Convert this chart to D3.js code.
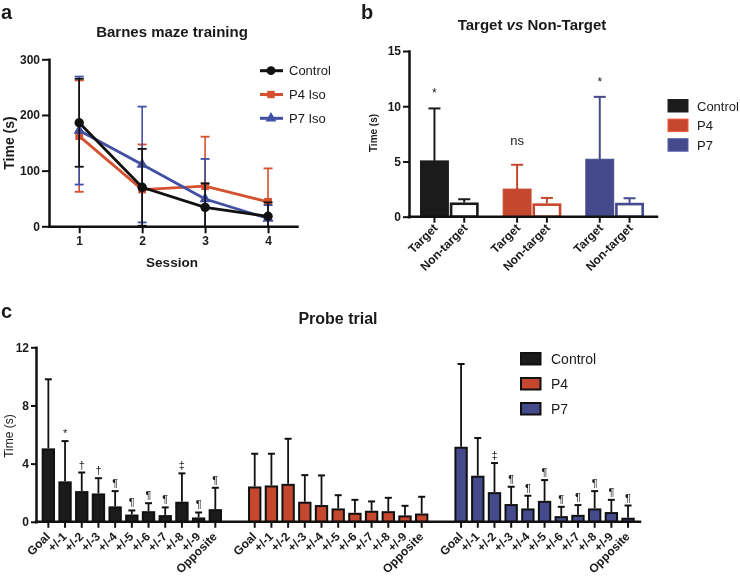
<!DOCTYPE html>
<html><head><meta charset="utf-8">
<script src="https://cdn.jsdelivr.net/npm/d3@7"></script>
<style>
body{margin:0;background:#fff;}
svg{display:block;}
</style></head><body>
<svg id="chart" width="740" height="579"></svg>
<script>
// ---------- DATA ----------
// Panel a: Barnes maze training
const sessions = [1, 2, 3, 4];
const trainSeries = ["Control", "P4 Iso", "P7 Iso"];
const trainControl = [186, 70, 34, 18];
const trainControlErr = [79, 69, 43, 25];
const trainP4 = [162, 66, 72, 44];
const trainP4Err = [100, 81, 89, 60];
const trainP7 = [172, 111, 49, 14];
const trainP7Err = [97, 104, 72, 24];
const trainTicks = [0, 100, 200, 300];

// Panel b: Target vs Non-Target
const tvnGroups = ["Control", "P4", "P7"];
const tvnCats = ["Target", "Non-target"];
const tvnTarget = [5.05, 2.5, 5.2];
const tvnTargetErr = [4.75, 2.2, 5.65];
const tvnNonTarget = [1.28, 1.2, 1.25];
const tvnNonTargetErr = [0.3, 0.5, 0.42];
const tvnSig = ["*", "ns", "*"];
const tvnTicks = [0, 5, 10, 15];

// Panel c: Probe trial
const probeGroups = ["Control", "P4", "P7"];
const probeCats = ["Goal", "+/-1", "+/-2", "+/-3", "+/-4", "+/-5", "+/-6", "+/-7", "+/-8", "+/-9", "Opposite"];
const probeControl = [5.05, 2.78, 2.11, 1.95, 1.06, 0.5, 0.73, 0.46, 1.38, 0.3, 0.87];
const probeControlErr = [4.75, 2.77, 1.28, 1.05, 1.05, 0.28, 0.55, 0.53, 1.95, 0.34, 1.47];
const probeP4 = [2.43, 2.5, 2.61, 1.38, 1.15, 0.92, 0.62, 0.76, 0.73, 0.44, 0.57];
const probeP4Err = [2.25, 2.18, 3.1, 1.83, 2.04, 0.91, 0.89, 0.64, 0.92, 0.66, 1.15];
const probeP7 = [5.16, 3.17, 2.04, 1.22, 0.92, 1.44, 0.39, 0.48, 0.92, 0.67, 0.28];
const probeP7Err = [5.69, 2.59, 2.0, 1.19, 0.87, 1.43, 0.64, 0.67, 1.19, 0.84, 0.84];
const probeControlSig = ["", "*", "\u2020", "\u2020", "\u00b6", "\u00b6", "\u00b6", "\u00b6", "\u2021", "\u00b6", "\u00b6"];
const probeP4Sig = ["", "", "", "", "", "", "", "", "", "", ""];
const probeP7Sig = ["", "", "\u2021", "\u00b6", "\u00b6", "\u00b6", "\u00b6", "\u00b6", "\u00b6", "\u00b6", "\u00b6"];
const probeTicks = [0, 4, 8, 12];

// ---------- STYLE ----------
const F = '"Liberation Sans", Arial, Helvetica, sans-serif';
const BLACK = "#111111";
const RED_LINE = "#d4502e", BLUE_LINE = "#4150a2";
const RED_BAR = "#c5482e", BLUE_BAR = "#444a8b";

// group with opacity -> grayscale text antialiasing
const svg = d3.select("#chart").attr("font-family", F).append("g").style("opacity", 0.999);

function styleAxis(g, fs) {
  g.attr("font-family", F);
  g.select(".domain").attr("stroke", BLACK).attr("stroke-width", 2.5).attr("stroke-linecap", "square");
  g.selectAll(".tick line").attr("stroke", BLACK).attr("stroke-width", 2);
  g.selectAll(".tick text").attr("fill", "#1a1a1a").attr("font-size", fs).attr("font-weight", "bold");
}
function label(x, y, txt, size, weight, anchor) {
  return svg.append("text").attr("x", x).attr("y", y).text(txt)
    .attr("font-size", size).attr("font-weight", weight || "normal")
    .attr("text-anchor", anchor || "start").attr("fill", "#1a1a1a");
}

// Panel letters
label(1, 18.5, "a", 20, "bold");
label(361, 18.5, "b", 20, "bold");
label(1, 318, "c", 20, "bold");

// ================= PANEL A =================
const ax = d3.scaleLinear().domain([0.52, 4.46]).range([49, 297]);
const ay = d3.scaleLinear().domain([0, 300]).range([226.3, 59.3]);

label(172, 37, "Barnes maze training", 15, "bold", "middle");
label(172, 266.5, "Session", 13.5, "bold", "middle");
svg.append("text").attr("transform", "translate(13.5,143) rotate(-90)")
  .attr("text-anchor", "middle").attr("font-size", 14).attr("font-weight", "bold")
  .attr("fill", "#1a1a1a").text("Time (s)");

const trainData = [
  { name: trainSeries[1], vals: trainP4, errs: trainP4Err, color: RED_LINE, sym: d3.symbolSquare, size: 60 },
  { name: trainSeries[2], vals: trainP7, errs: trainP7Err, color: BLUE_LINE, sym: d3.symbolTriangle, size: 55 },
  { name: trainSeries[0], vals: trainControl, errs: trainControlErr, color: BLACK, sym: d3.symbolCircle, size: 70 }
];

trainData.forEach(s => {
  const g = svg.append("g");
  const pts = sessions.map((x, i) => ({ x, v: s.vals[i], e: s.errs[i] }));
  pts.forEach(p => {
    const lo = Math.max(0, p.v - p.e), hi = p.v + p.e;
    g.append("line").attr("x1", ax(p.x)).attr("x2", ax(p.x)).attr("y1", ay(lo)).attr("y2", ay(hi))
      .attr("stroke", s.color).attr("stroke-width", 1.6);
    g.append("line").attr("x1", ax(p.x) - 4.5).attr("x2", ax(p.x) + 4.5).attr("y1", ay(hi)).attr("y2", ay(hi))
      .attr("stroke", s.color).attr("stroke-width", 1.8);
    if (p.v - p.e > 0) {
      g.append("line").attr("x1", ax(p.x) - 4.5).attr("x2", ax(p.x) + 4.5).attr("y1", ay(lo)).attr("y2", ay(lo))
        .attr("stroke", s.color).attr("stroke-width", 1.8);
    }
  });
  g.append("path").datum(pts)
    .attr("d", d3.line().x(p => ax(p.x)).y(p => ay(p.v)))
    .attr("fill", "none").attr("stroke", s.color).attr("stroke-width", 2.8);
  g.selectAll(".m").data(pts).enter().append("path")
    .attr("transform", p => `translate(${ax(p.x)},${ay(p.v)})`)
    .attr("d", d3.symbol().type(s.sym).size(s.size)).attr("fill", s.color);
});

const yAxA = svg.append("g").attr("transform", "translate(49,0)")
  .call(d3.axisLeft(ay).tickValues(trainTicks).tickSize(7).tickSizeOuter(0).tickPadding(2));
styleAxis(yAxA, 12);
const xAxA = svg.append("g").attr("transform", `translate(0,${ay(0)})`)
  .call(d3.axisBottom(ax).tickValues(sessions).tickFormat(d3.format("d")).tickSize(7).tickSizeOuter(0).tickPadding(3));
styleAxis(xAxA, 12);

// legend a
const legA = [
  { name: trainSeries[0], color: BLACK, sym: d3.symbolCircle, size: 60 },
  { name: trainSeries[1], color: RED_LINE, sym: d3.symbolSquare, size: 55 },
  { name: trainSeries[2], color: BLUE_LINE, sym: d3.symbolTriangle, size: 50 }
];
legA.forEach((d, i) => {
  const y = 70.7 + i * 23.8;
  svg.append("line").attr("x1", 260).attr("x2", 283).attr("y1", y).attr("y2", y)
    .attr("stroke", d.color).attr("stroke-width", 3);
  svg.append("path").attr("transform", `translate(271,${y})`)
    .attr("d", d3.symbol().type(d.sym).size(d.size)).attr("fill", d.color);
  label(289, y + 4.7, d.name, 13, "normal");
});

// ================= PANEL B =================
const bG = d3.scaleBand().domain(tvnGroups).range([420, 644]).paddingInner(0.29);
const bI = d3.scaleBand().domain(tvnCats).range([0, bG.bandwidth()]).paddingInner(0.03);
const by = d3.scaleLinear().domain([0, 15]).range([216.7, 51]);
const barColB = { Control: "#1b1b1b", P4: RED_BAR, P7: BLUE_BAR };

const title = svg.append("text").attr("x", 532).attr("y", 30).attr("text-anchor", "middle")
  .attr("font-size", 15).attr("font-weight", "bold").attr("fill", "#1a1a1a");
title.append("tspan").text("Target ");
title.append("tspan").attr("font-style", "italic").text("vs");
title.append("tspan").text(" Non-Target");

svg.append("text").attr("transform", "translate(377,133) rotate(-90)")
  .attr("text-anchor", "middle").attr("font-size", 10).attr("font-weight", "bold")
  .attr("fill", "#1a1a1a").text("Time (s)");

const tvnData = [];
tvnGroups.forEach((g, i) => {
  tvnData.push({ g, c: tvnCats[0], v: tvnTarget[i], e: tvnTargetErr[i], sig: tvnSig[i] });
  tvnData.push({ g, c: tvnCats[1], v: tvnNonTarget[i], e: tvnNonTargetErr[i], sig: "" });
});
const bx = d => bG(d.g) + bI(d.c);
const bw = bI.bandwidth();

tvnData.forEach(d => {
  const col = barColB[d.g];
  const cx = bx(d) + bw / 2;
  svg.append("line").attr("x1", cx).attr("x2", cx).attr("y1", by(d.v)).attr("y2", by(d.v + d.e))
    .attr("stroke", col).attr("stroke-width", 2);
  svg.append("line").attr("x1", cx - 6).attr("x2", cx + 6).attr("y1", by(d.v + d.e)).attr("y2", by(d.v + d.e))
    .attr("stroke", col).attr("stroke-width", 2);
  if (d.c === tvnCats[0]) {
    svg.append("rect").attr("x", bx(d) + 0.5).attr("y", by(d.v)).attr("width", bw - 1)
      .attr("height", by(0) - by(d.v)).attr("fill", col).attr("stroke", col).attr("stroke-width", 1);
  } else {
    svg.append("rect").attr("x", bx(d) + 1.3).attr("y", by(d.v) + 1.2).attr("width", bw - 2.6)
      .attr("height", by(0) - by(d.v) - 1.2).attr("fill", "#fff").attr("stroke", col).attr("stroke-width", 2.6);
  }
  if (d.sig) {
    svg.append("text").attr("x", cx).attr("y", by(d.v + d.e) - (d.sig === "ns" ? 20 : 11))
      .attr("text-anchor", "middle").attr("font-size", d.sig === "ns" ? 13 : 12).attr("fill", "#1a1a1a").text(d.sig);
  }
});

const yAxB = svg.append("g").attr("transform", "translate(409,0)")
  .call(d3.axisLeft(by).tickValues(tvnTicks).tickSize(6).tickSizeOuter(0).tickPadding(2));
styleAxis(yAxB, 12);
svg.append("line").attr("x1", 409).attr("x2", 657).attr("y1", by(0)).attr("y2", by(0))
  .attr("stroke", BLACK).attr("stroke-width", 2.5).attr("stroke-linecap", "square");
tvnData.forEach(d => {
  const cx = bx(d) + bw / 2;
  svg.append("line").attr("x1", cx).attr("x2", cx).attr("y1", by(0)).attr("y2", by(0) + 6)
    .attr("stroke", BLACK).attr("stroke-width", 2);
  svg.append("text").attr("transform", `translate(${cx + 4},${by(0) + 12}) rotate(-45)`)
    .attr("text-anchor", "end").attr("font-size", 12).attr("font-weight", "bold")
    .attr("fill", "#1a1a1a").text(d.c);
});
tvnGroups.forEach((g, i) => {
  const y = 99.5 + i * 19.6;
  svg.append("rect").attr("x", 668).attr("y", y).attr("width", 20).attr("height", 12.5)
    .attr("fill", barColB[g]).attr("stroke", d3.color(barColB[g]).brighter(0.6)).attr("stroke-width", 1);
  label(697, y + 11, g, 13, "normal");
});

// ================= PANEL C =================
const cG = d3.scaleBand().domain(probeGroups).range([40, 636.4]).paddingInner(0.11);
const cI = d3.scaleBand().domain(probeCats).range([0, cG.bandwidth()]).paddingInner(0.2).paddingOuter(0.1);
const cy = d3.scaleLinear().domain([0, 12]).range([521.8, 347.3]);
const barColC = { Control: "#1b1b1b", P4: RED_BAR, P7: BLUE_BAR };

label(338, 324.3, "Probe trial", 16, "bold", "middle");
svg.append("text").attr("transform", "translate(12.5,436) rotate(-90)")
  .attr("text-anchor", "middle").attr("font-size", 12).attr("fill", "#1a1a1a").text("Time (s)");

const probeVals = { Control: probeControl, P4: probeP4, P7: probeP7 };
const probeErrs = { Control: probeControlErr, P4: probeP4Err, P7: probeP7Err };
const probeSigs = { Control: probeControlSig, P4: probeP4Sig, P7: probeP7Sig };
const probeData = [];
probeGroups.forEach(g => probeCats.forEach((c, i) =>
  probeData.push({ g, c, v: probeVals[g][i], e: probeErrs[g][i], sig: probeSigs[g][i] })));
const cbw = cI.bandwidth();
const cx0 = d => cG(d.g) + cI(d.c);

probeData.forEach(d => {
  const cx = cx0(d) + cbw / 2;
  const top = cy(d.v + d.e);
  svg.append("line").attr("x1", cx).attr("x2", cx).attr("y1", cy(d.v)).attr("y2", top)
    .attr("stroke", BLACK).attr("stroke-width", 1.8);
  svg.append("line").attr("x1", cx - 3.5).attr("x2", cx + 3.5).attr("y1", top).attr("y2", top)
    .attr("stroke", BLACK).attr("stroke-width", 2);
  svg.append("rect").attr("x", cx0(d) + 1).attr("y", cy(d.v) + 1).attr("width", cbw - 2)
    .attr("height", Math.max(0, cy(0) - cy(d.v) - 1)).attr("fill", barColC[d.g])
    .attr("stroke", BLACK).attr("stroke-width", 2);
  if (d.sig) {
    svg.append("text").attr("x", cx).attr("y", top - 4).attr("text-anchor", "middle")
      .attr("font-size", 11).attr("fill", "#1a1a1a").text(d.sig);
  }
});

const yAxC = svg.append("g").attr("transform", "translate(36,0)")
  .call(d3.axisLeft(cy).tickValues(probeTicks).tickSize(5).tickSizeOuter(0).tickPadding(2));
styleAxis(yAxC, 12);
svg.append("line").attr("x1", 36).attr("x2", 640).attr("y1", cy(0)).attr("y2", cy(0))
  .attr("stroke", BLACK).attr("stroke-width", 2.5).attr("stroke-linecap", "square");
probeData.forEach(d => {
  const cx = cx0(d) + cbw / 2;
  svg.append("line").attr("x1", cx).attr("x2", cx).attr("y1", cy(0)).attr("y2", cy(0) + 6)
    .attr("stroke", BLACK).attr("stroke-width", 2);
  svg.append("text").attr("transform", `translate(${cx + 2.5},${cy(0) + 15.5}) rotate(-45)`)
    .attr("text-anchor", "end").attr("font-size", 12).attr("font-weight", "bold")
    .attr("fill", "#1a1a1a").text(d.c);
});
probeGroups.forEach((g, i) => {
  const y = 353 + i * 25;
  svg.append("rect").attr("x", 521).attr("y", y).attr("width", 19.5).attr("height", 11.5)
    .attr("fill", barColC[g]).attr("stroke", BLACK).attr("stroke-width", 2);
  label(551, y + 11, g, 14, "normal");
});
</script>
</body></html>
